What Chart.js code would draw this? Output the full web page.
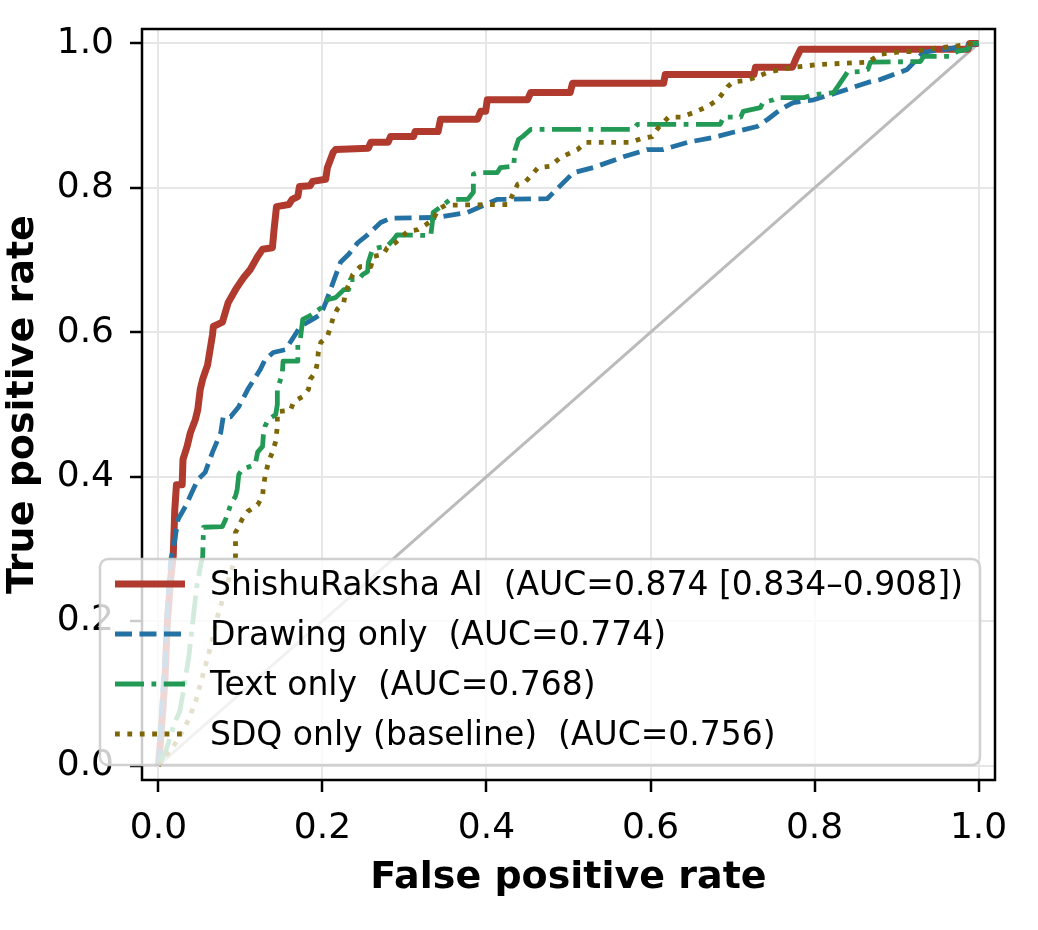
<!DOCTYPE html>
<html>
<head>
<meta charset="utf-8">
<script src="https://cdn.jsdelivr.net/npm/chart.js@4.4.1/dist/chart.umd.min.js"></script>
<style>
  html, body { margin: 0; padding: 0; background: #fff; }
  #wrap { width: 1038px; height: 930px; }
</style>
</head>
<body>
<div id="wrap"><canvas id="rocChart" width="1038" height="930"></canvas></div>
<script>
// ROC points, [false positive rate, true positive rate]
const aiRoc = [[0,0],[0.003,0.04],[0.008,0.12],[0.011,0.20],[0.015,0.26],[0.018,0.289],[0.020,0.355],[0.022,0.389],[0.029,0.389],[0.030,0.424],[0.035,0.442],[0.039,0.461],[0.045,0.479],[0.048,0.493],[0.051,0.521],[0.054,0.535],[0.060,0.555],[0.066,0.597],[0.067,0.608],[0.078,0.614],[0.085,0.641],[0.094,0.659],[0.098,0.666],[0.104,0.676],[0.112,0.687],[0.121,0.705],[0.127,0.715],[0.139,0.717],[0.141,0.742],[0.144,0.774],[0.159,0.777],[0.163,0.784],[0.170,0.788],[0.172,0.802],[0.185,0.803],[0.188,0.809],[0.204,0.812],[0.206,0.828],[0.213,0.849],[0.216,0.853],[0.256,0.855],[0.259,0.863],[0.280,0.863],[0.283,0.871],[0.311,0.871],[0.313,0.878],[0.341,0.878],[0.344,0.895],[0.389,0.895],[0.393,0.906],[0.399,0.906],[0.401,0.922],[0.450,0.922],[0.454,0.932],[0.502,0.932],[0.505,0.945],[0.616,0.945],[0.618,0.957],[0.726,0.957],[0.728,0.967],[0.773,0.967],[0.777,0.978],[0.783,0.992],[0.987,0.992],[0.989,1],[1,1]];

const drawingRoc = [[0,0],[0.004,0.08],[0.008,0.15],[0.011,0.22],[0.015,0.285],[0.018,0.299],[0.024,0.341],[0.033,0.359],[0.048,0.396],[0.057,0.406],[0.066,0.434],[0.076,0.461],[0.079,0.483],[0.088,0.483],[0.098,0.497],[0.109,0.521],[0.124,0.548],[0.130,0.562],[0.140,0.572],[0.155,0.576],[0.163,0.590],[0.173,0.608],[0.191,0.620],[0.198,0.625],[0.204,0.641],[0.222,0.697],[0.232,0.708],[0.243,0.724],[0.255,0.735],[0.271,0.752],[0.283,0.758],[0.340,0.759],[0.377,0.766],[0.413,0.784],[0.474,0.785],[0.482,0.794],[0.506,0.821],[0.530,0.828],[0.567,0.843],[0.596,0.853],[0.615,0.853],[0.645,0.863],[0.677,0.870],[0.701,0.877],[0.730,0.885],[0.743,0.895],[0.759,0.909],[0.774,0.918],[0.799,0.922],[0.828,0.932],[0.865,0.946],[0.880,0.950],[0.913,0.964],[0.933,0.988],[0.962,0.992],[0.978,0.996],[1,1]];

const textRoc = [[0,0],[0.009,0.02],[0.020,0.06],[0.026,0.075],[0.030,0.10],[0.037,0.15],[0.042,0.20],[0.047,0.25],[0.052,0.28],[0.054,0.289],[0.055,0.330],[0.078,0.331],[0.082,0.341],[0.088,0.361],[0.094,0.373],[0.096,0.382],[0.098,0.403],[0.102,0.410],[0.118,0.417],[0.121,0.434],[0.127,0.442],[0.128,0.458],[0.130,0.470],[0.134,0.479],[0.143,0.486],[0.145,0.500],[0.145,0.521],[0.151,0.542],[0.152,0.560],[0.170,0.560],[0.170,0.583],[0.173,0.590],[0.176,0.618],[0.185,0.623],[0.201,0.636],[0.206,0.645],[0.216,0.648],[0.226,0.659],[0.232,0.659],[0.234,0.673],[0.244,0.673],[0.249,0.680],[0.255,0.684],[0.256,0.697],[0.261,0.715],[0.267,0.717],[0.279,0.719],[0.287,0.729],[0.291,0.735],[0.332,0.734],[0.334,0.752],[0.335,0.766],[0.348,0.777],[0.356,0.784],[0.377,0.784],[0.384,0.794],[0.384,0.819],[0.389,0.821],[0.413,0.821],[0.417,0.828],[0.433,0.830],[0.435,0.853],[0.439,0.867],[0.444,0.871],[0.451,0.878],[0.454,0.881],[0.579,0.881],[0.584,0.888],[0.685,0.888],[0.689,0.898],[0.710,0.898],[0.713,0.906],[0.734,0.911],[0.737,0.918],[0.750,0.922],[0.755,0.925],[0.787,0.925],[0.799,0.929],[0.823,0.932],[0.828,0.940],[0.840,0.960],[0.856,0.961],[0.865,0.964],[0.868,0.974],[0.929,0.975],[0.933,0.982],[0.966,0.982],[0.974,0.989],[0.987,0.992],[0.990,1],[1,1]];

const sdqRoc = [[0,0],[0.009,0.013],[0.024,0.036],[0.037,0.064],[0.046,0.091],[0.057,0.137],[0.066,0.175],[0.072,0.206],[0.082,0.244],[0.088,0.267],[0.092,0.280],[0.094,0.289],[0.094,0.323],[0.098,0.331],[0.102,0.341],[0.109,0.352],[0.121,0.361],[0.127,0.373],[0.128,0.386],[0.130,0.400],[0.134,0.420],[0.139,0.434],[0.143,0.449],[0.145,0.470],[0.145,0.490],[0.161,0.492],[0.165,0.504],[0.176,0.511],[0.183,0.521],[0.185,0.535],[0.191,0.544],[0.194,0.558],[0.195,0.573],[0.198,0.586],[0.206,0.594],[0.210,0.608],[0.213,0.620],[0.218,0.632],[0.226,0.641],[0.228,0.655],[0.237,0.680],[0.246,0.691],[0.259,0.691],[0.262,0.705],[0.274,0.708],[0.279,0.717],[0.289,0.724],[0.304,0.740],[0.316,0.742],[0.326,0.749],[0.335,0.756],[0.341,0.770],[0.350,0.776],[0.427,0.777],[0.432,0.791],[0.438,0.805],[0.448,0.809],[0.463,0.828],[0.478,0.830],[0.490,0.842],[0.511,0.853],[0.521,0.863],[0.576,0.863],[0.588,0.868],[0.602,0.871],[0.610,0.884],[0.622,0.898],[0.637,0.898],[0.652,0.904],[0.670,0.913],[0.682,0.922],[0.694,0.940],[0.701,0.947],[0.718,0.949],[0.730,0.954],[0.743,0.960],[0.759,0.964],[0.774,0.967],[0.807,0.971],[0.865,0.974],[0.880,0.985],[0.901,0.988],[0.921,0.989],[0.945,0.993],[0.970,0.996],[0.987,0.999],[1,1]];

const chanceLine = [[0,0],[1,1]];

const seriesLabels = [
  'ShishuRaksha AI  (AUC=0.874 [0.834\u20130.908])',
  'Drawing only  (AUC=0.774)',
  'Text only  (AUC=0.768)',
  'SDQ only (baseline)  (AUC=0.756)'
];
const tickValues = [0, 0.2, 0.4, 0.6, 0.8, 1.0];

const FONT = 'DejaVu Sans';

function toPoints(pairs) {
  return pairs.map(p => ({x: p[0], y: p[1]}));
}

// black frame on all four sides, plus the legend box drawn last (over the axes)
const frameAndLegend = {
  id: 'frameAndLegend',
  afterDatasetsDraw(chart) {
    const {ctx, chartArea: a} = chart;
    ctx.save();
    ctx.strokeStyle = '#000';
    ctx.lineWidth = 2.5;
    ctx.strokeRect(a.left, a.top, a.right - a.left, a.bottom - a.top);
    ctx.restore();
  },
  afterDraw(chart) {
    const {ctx, chartArea: a} = chart;
    const items = chart.data.datasets.filter(d => d.inLegend);
    ctx.save();
    ctx.font = '33px "' + FONT + '"';
    let maxW = 0;
    items.forEach(d => { maxW = Math.max(maxW, ctx.measureText(d.label).width); });
    const w = 15 + 70 + 25 + maxW + 17;
    const h = 206;
    const x = a.right - 15 - w;
    const y = a.bottom - 15 - h;

    ctx.beginPath();
    ctx.roundRect(x, y, w, h, 8);
    ctx.fillStyle = 'rgba(255,255,255,0.8)';
    ctx.fill();
    ctx.strokeStyle = 'rgba(204,204,204,0.9)';
    ctx.lineWidth = 2.5;
    ctx.stroke();

    items.forEach((d, i) => {
      const cy = y + 25 + i * 50;
      ctx.beginPath();
      ctx.setLineDash(d.borderDash || []);
      ctx.lineCap = 'butt';
      ctx.strokeStyle = d.borderColor;
      ctx.lineWidth = d.borderWidth;
      ctx.moveTo(x + 15, cy);
      ctx.lineTo(x + 85, cy);
      ctx.stroke();
      ctx.setLineDash([]);
      ctx.fillStyle = '#000';
      ctx.textBaseline = 'middle';
      ctx.textAlign = 'left';
      ctx.fillText(d.label, x + 110, cy + 2);
    });
    ctx.restore();
  }
};

const ctx = document.getElementById('rocChart').getContext('2d');
const chart = new Chart(ctx, {
  type: 'line',
  data: {
    datasets: [
      {
        label: seriesLabels[0], data: toPoints(aiRoc), inLegend: true,
        borderColor: '#B03A2E', borderWidth: 7, order: 4
      },
      {
        label: seriesLabels[1], data: toPoints(drawingRoc), inLegend: true,
        borderColor: '#2471A3', borderWidth: 4.8, borderDash: [17, 7.5], order: 3
      },
      {
        label: seriesLabels[2], data: toPoints(textRoc), inLegend: true,
        borderColor: '#229954', borderWidth: 4.8, borderDash: [29, 7.5, 4.8, 7.5], order: 2
      },
      {
        label: seriesLabels[3], data: toPoints(sdqRoc), inLegend: true,
        borderColor: '#7D6608', borderWidth: 4.8, borderDash: [4.8, 7.6], order: 1
      },
      {
        label: 'chance', data: toPoints(chanceLine), inLegend: false,
        borderColor: '#bbbbbb', borderWidth: 3, order: 5
      }
    ]
  },
  options: {
    responsive: false,
    animation: false,
    devicePixelRatio: 1,
    layout: { padding: { left: 0, right: 43, top: 29, bottom: 0 } },
    elements: {
      point: { radius: 0, hoverRadius: 0 },
      line: { tension: 0, fill: false, borderJoinStyle: 'round', borderCapStyle: 'butt' }
    },
    plugins: { legend: { display: false }, tooltip: { enabled: false } },
    scales: {
      x: {
        type: 'linear', min: -0.02, max: 1.02,
        afterBuildTicks: s => { s.ticks = tickValues.map(v => ({value: v})); },
        afterFit: s => { s.height = 150; s.paddingLeft = 0; s.paddingRight = 0; },
        ticks: {
          autoSkip: false, maxRotation: 0, padding: 15, color: '#000',
          font: { family: FONT, size: 36 },
          callback: v => v.toFixed(1)
        },
        grid: { color: '#e6e6e6', lineWidth: 2, tickColor: '#000', tickWidth: 2.5, tickLength: 12 },
        border: { display: false },
        title: {
          display: true, text: 'False positive rate', color: '#000',
          font: { family: FONT, size: 38, weight: 'bold' },
          padding: { top: 0, bottom: 29 }
        }
      },
      y: {
        type: 'linear', min: -0.02, max: 1.02,
        afterBuildTicks: s => { s.ticks = tickValues.map(v => ({value: v})); },
        afterFit: s => { s.width = 142; s.paddingTop = 0; s.paddingBottom = 0; },
        ticks: {
          autoSkip: false, padding: 16, color: '#000',
          font: { family: FONT, size: 36 },
          callback: v => v.toFixed(1)
        },
        grid: { color: '#e6e6e6', lineWidth: 2, tickColor: '#000', tickWidth: 2.5, tickLength: 12 },
        border: { display: false },
        title: {
          display: true, text: 'True positive rate', color: '#000',
          font: { family: FONT, size: 38, weight: 'bold' },
          padding: { top: 0, bottom: 0 }
        }
      }
    }
  },
  plugins: [frameAndLegend]
});
</script>
</body>
</html>
